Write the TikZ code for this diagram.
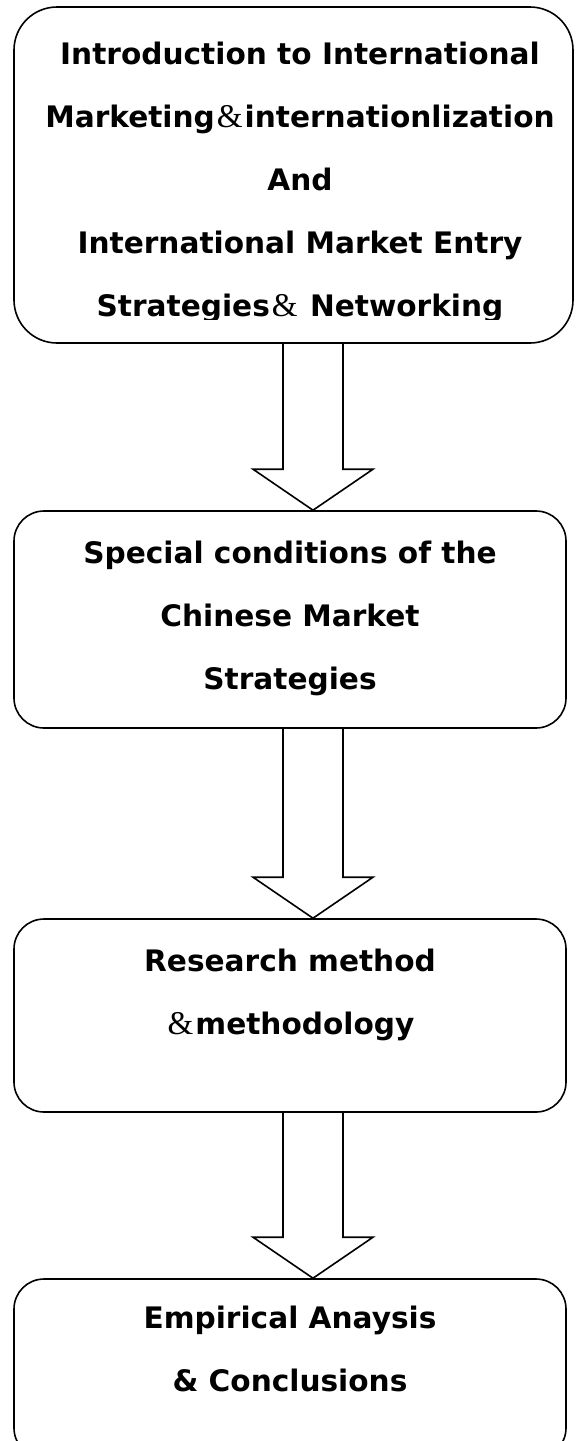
\documentclass[tikz,border=0pt]{standalone}
\usepackage{fontspec}
\setmainfont{DejaVu Sans}
\newfontfamily\ampfont[Scale=1.12]{Liberation Serif}
\usetikzlibrary{calc}

\newcommand{\serifamp}{{\ampfont\mdseries\kern1pt\&\kern1pt}}

\begin{document}
\begin{tikzpicture}[x=0.5pt, y=-0.5pt,
        box/.style = {draw, line width=0.8pt, rounded corners=15pt, inner sep=0pt},
        txt/.style = {anchor=north, align=center, inner sep=0pt, font=\fontsize{14.8}{31.5}\selectfont\bfseries},
        ar/.style = {line width=0.8pt, line join=miter}]
        \useasboundingbox (0,0) rectangle (576,1441);

        \node[box, rounded corners=21.5pt, minimum width=279.5pt, minimum height=168pt] (intro) at (293.5,175) {};
        \node[box, minimum width=276pt, minimum height=108.5pt] (market) at (290,619.5) {};
        \node[box, minimum width=276pt, minimum height=96.5pt] (method) at (290,1015.5) {};
        \node[box, minimum width=276pt, minimum height=89.5pt] (result) at (290,1368.5) {};

        % last line of the first box is cut off
        \begin{scope}
            \clip (0,0) rectangle (576,319);
            \node[txt] (introtxt) at ($(intro.north)+(6.5,35)$) {Introduction to International\\ Marketing\serifamp internationlization\\ And\\ International Market Entry\\ Strategies\serifamp\ Networking};
        \end{scope}
        \node[txt] (markettxt) at ($(market.north)+(0,30)$) {Special conditions of the\\ Chinese Market\\ Strategies};
        \node[txt] (methodtxt) at ($(method.north)+(0,30)$) {Research method\\ \serifamp methodology};
        \node[txt] (resulttxt) at ($(result.north)+(0,27)$) {Empirical Anaysis\\ \& Conclusions};

        \coordinate (ax) at (313,0);
        \foreach \a/\b in {intro/market, market/method, method/result}
            \draw[ar] ($(ax |- \a.south)+(-30,0)$) -- ($(ax |- \b.north)+(-30,-41)$) -- ++(-30,0) -- (ax |- \b.north)
                -- ($(ax |- \b.north)+(60,-41)$) -- ++(-30,0) -- ($(ax |- \a.south)+(30,0)$);
    \end{tikzpicture}
\end{document}
